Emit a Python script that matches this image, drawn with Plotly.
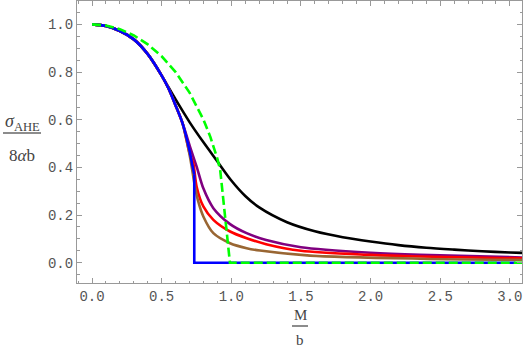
import plotly.graph_objects as go

# Values
m_common = [0.0, 0.1, 0.2, 0.3, 0.4, 0.5, 0.55, 0.6, 0.65]
s_common = [1.0, 0.993, 0.972, 0.937, 0.875, 0.785, 0.73, 0.66, 0.585]

m_blue_curve = m_common + [0.7, 0.72, 0.734]
s_blue_curve = s_common + [0.47, 0.41, 0.37]
m_blue_drop = [0.734, 0.734, 3.04]
s_blue_drop = [0.37, 0.0, 0.0]

m_black = [0.0, 0.1, 0.2, 0.3, 0.4, 0.5, 0.55, 0.6, 0.7, 0.8, 0.9, 1.0, 1.1, 1.2,
           1.4, 1.6, 1.8, 2.0, 2.2, 2.4, 2.6, 2.8, 3.0, 3.1]
s_black = [1.0, 0.993, 0.972, 0.937, 0.875, 0.785, 0.735, 0.685, 0.59, 0.505, 0.425,
           0.345, 0.28, 0.232, 0.17, 0.132, 0.107, 0.089, 0.074, 0.063, 0.055, 0.048,
           0.043, 0.041]

m_purple = m_common + [0.703, 0.751, 0.799, 0.871, 0.991, 1.11, 1.25, 1.5, 2.0, 2.355, 3.1]
s_purple = s_common + [0.487, 0.403, 0.312, 0.229, 0.162, 0.124, 0.095, 0.065, 0.042, 0.033, 0.022]

m_red = m_common + [0.7, 0.727, 0.751, 0.799, 0.871, 0.991, 1.11, 1.25, 1.5, 2.0, 2.355, 3.1]
s_red = s_common + [0.46, 0.417, 0.319, 0.236, 0.18, 0.131, 0.103, 0.078, 0.05, 0.033, 0.026, 0.018]

m_brown = m_common + [0.703, 0.739, 0.763, 0.799, 0.871, 0.991, 1.11, 1.206, 1.565, 2.355, 3.1]
s_brown = s_common + [0.445, 0.319, 0.256, 0.194, 0.124, 0.082, 0.061, 0.051, 0.03, 0.017, 0.012]

m_green = [0.0, 0.1, 0.2, 0.3, 0.4, 0.5, 0.6, 0.7, 0.8, 0.85, 0.9, 0.92, 0.99, 3.1]
s_green = [1.0, 0.995, 0.98, 0.954, 0.916, 0.866, 0.8, 0.714, 0.6, 0.527, 0.436, 0.39, 0.0, 0.0]

x_ticks = [0.0, 0.5, 1.0, 1.5, 2.0, 2.5, 3.0]
x_ticklabels = ["0.0", "0.5", "1.0", "1.5", "2.0", "2.5", "3.0"]
y_ticks = [0.0, 0.2, 0.4, 0.6, 0.8, 1.0]
y_ticklabels = ["0.0", "0.2", "0.4", "0.6", "0.8", "1.0"]

fig = go.Figure()
series = [
    (m_black, s_black, "black", None, "spline"),
    (m_purple, s_purple, "#800080", None, "spline"),
    (m_red, s_red, "#ff0000", None, "spline"),
    (m_brown, s_brown, "#996633", None, "spline"),
    (m_blue_curve, s_blue_curve, "#0000ff", None, "spline"),
    (m_blue_drop, s_blue_drop, "#0000ff", None, "linear"),
    (m_green, s_green, "#00ff00", "9px,4px", "linear"),
]
for xs, ys, col, dash, shape in series:
    ln = dict(color=col, width=2.6, shape=shape)
    if shape == "spline":
        ln["smoothing"] = 0.8
    if dash:
        ln["dash"] = dash
    fig.add_trace(go.Scatter(x=xs, y=ys, mode="lines", line=ln,
                             showlegend=False, hoverinfo="skip"))

W, H = 523, 349
L, R, T, B = 77, 1, 1, 66
pw, ph = W - L - R, H - T - B

def px(xp):
    return (xp - L) / pw

def py(yp):
    return (H - B - yp) / ph

axis_common = dict(
    showgrid=False, zeroline=False, showline=True, linecolor="#999999", linewidth=1,
    mirror="ticks", ticks="inside", ticklen=5, tickcolor="#999999", tickwidth=1,
    tickfont=dict(family="Liberation Mono", size=14, color="#555555"),
    automargin=False,
)
fig.update_xaxes(range=[-0.108, 3.087], tickvals=x_ticks, ticktext=x_ticklabels,
                 minor=dict(ticks="inside", ticklen=2.5, dtick=0.1, tick0=0, tickcolor="#999999"),
                 **axis_common)
fig.update_yaxes(range=[-0.085, 1.098], tickvals=y_ticks, ticktext=y_ticklabels,
                 minor=dict(ticks="inside", ticklen=2.5, dtick=0.05, tick0=0, tickcolor="#999999"),
                 **axis_common)

lab_col = "#444444"
ann = [
    dict(text="<i>σ</i><sub>AHE</sub>", x=px(22), y=py(123), font=dict(family="Liberation Serif", size=18, color=lab_col)),
    dict(text="8<i>α</i>b", x=px(22), y=py(155), font=dict(family="Liberation Serif", size=17, color=lab_col)),
    dict(text="M", x=px(300), y=py(315), font=dict(family="Liberation Serif", size=15, color=lab_col)),
    dict(text="b", x=px(300), y=py(340), font=dict(family="Liberation Serif", size=15, color=lab_col)),
]
for a in ann:
    fig.add_annotation(xref="paper", yref="paper", showarrow=False,
                       xanchor="center", yanchor="middle", **a)

fig.add_shape(type="line", xref="paper", yref="paper",
              x0=px(3), x1=px(41), y0=py(133), y1=py(133), line=dict(color="#666666", width=1.5))
fig.add_shape(type="line", xref="paper", yref="paper",
              x0=px(292), x1=px(308), y0=py(326), y1=py(326), line=dict(color="#666666", width=1.5))

fig.update_layout(
    width=W, height=H, margin=dict(l=L, r=R, t=T, b=B),
    paper_bgcolor="white", plot_bgcolor="white",
)
fig.write_html("out.html", config={"displayModeBar": False},
               post_script="document.body.style.margin='0';document.body.style.overflow='hidden';")
